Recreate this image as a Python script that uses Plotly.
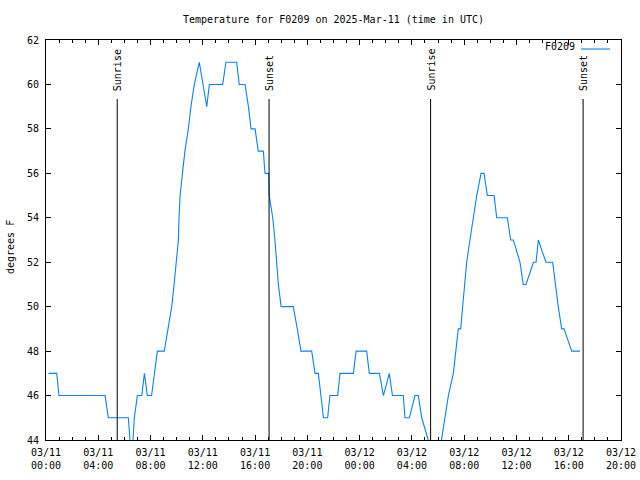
import pandas as pd
import plotly.graph_objects as go

# Hours since 2025-03-11 00:00 UTC and temperature (deg F)
hours = [0.2, 0.82, 0.99, 4.52, 4.77, 6.3, 6.55, 6.76, 6.99, 7.33, 7.53, 7.75, 8.08, 8.29, 8.52,
         9.05, 9.36, 9.62, 9.8, 9.95, 10.13, 10.18, 10.26, 10.44, 10.63, 10.89, 11.09, 11.35, 11.73,
         12.3, 12.5, 13.52, 13.77, 14.59, 14.79, 15.23, 15.49, 15.69, 16.0, 16.24, 16.63, 16.76,
         17.04, 17.08, 17.35, 17.52, 17.65, 17.78, 17.99, 18.92, 19.23, 19.51, 20.33, 20.59, 20.84,
         21.01, 21.23, 21.55, 21.73, 22.32, 22.5, 23.52, 23.73, 24.54, 24.74, 25.51, 25.82, 26.27,
         26.51, 27.34, 27.47, 27.8, 28.24, 28.49, 28.75, 29.25, 29.6, 30.0, 30.28, 30.53, 30.79,
         31.17, 31.38, 31.55, 31.73, 31.88, 32.01, 32.19, 32.44, 32.7, 32.96, 33.29, 33.52, 33.77,
         34.29, 34.49, 35.3, 35.56, 35.76, 36.27, 36.52, 36.73, 37.3, 37.5, 37.67, 38.26, 38.77,
         39.2, 39.46, 39.64, 40.23, 40.86]
temps = [47, 47, 46, 46, 45, 45, 43, 45, 46, 46, 47, 46, 46, 47, 48,
         48, 49, 50, 51, 52, 53, 54, 55, 56, 57, 58, 59, 60, 61,
         59, 60, 60, 61, 61, 60, 60, 59, 58, 58, 57, 57, 56,
         56, 55, 54, 53, 52, 51, 50, 50, 49, 48, 48, 47, 47,
         46, 45, 45, 46, 46, 47, 47, 48, 48, 47, 47, 46, 47,
         46, 46, 45, 45, 46, 46, 45, 44, 43, 43, 44, 45, 46,
         47, 48, 49, 49, 50, 51, 52, 53, 54, 55, 56, 56, 55,
         55, 54, 54, 53, 53, 52, 51, 51, 52, 52, 53, 52, 52,
         50, 49, 49, 48, 48]

sun_events = ["Sunrise", "Sunset", "Sunrise", "Sunset"]
sun_hours = [5.45, 17.07, 29.43, 41.1]

station = "F0209"
base = pd.Timestamp("2025-03-11 00:00")
times = [base + pd.Timedelta(hours=h) for h in hours]
sun_times = [base + pd.Timedelta(hours=h) for h in sun_hours]

FONT = "DejaVu Sans Mono"
COLOR = "#0a80ff"
PW, PH = 575, 400  # plot area size in px

fig = go.Figure()
fig.add_trace(go.Scatter(x=times, y=temps, mode="lines",
                         line=dict(color=COLOR, width=1.1), showlegend=False, name=station))

shapes = []
annotations = []
for name, t in zip(sun_events, sun_times):
    shapes.append(dict(type="line", xref="x", yref="paper", x0=t, x1=t, y0=0, y1=0.8525,
                       line=dict(color="black", width=1)))
    annotations.append(dict(text=name, x=t, xref="x", y=0.87, yref="paper", textangle=-90,
                            xanchor="center", yanchor="bottom", showarrow=False, borderpad=0,
                            font=dict(family=FONT, size=10, color="black")))

# legend entry (text left of line sample, gnuplot style)
annotations.append(dict(text=station, x=(576 - 46) / PW, xref="paper", y=(440 - 47) / PH,
                        yref="paper", xanchor="right", yanchor="middle", showarrow=False,
                        borderpad=0, font=dict(family=FONT, size=10, color="black")))
shapes.append(dict(type="line", xref="paper", yref="paper",
                   x0=(581 - 46) / PW, x1=(610 - 46) / PW,
                   y0=(440 - 49) / PH, y1=(440 - 49) / PH, line=dict(color=COLOR, width=1.1)))

# y-axis title
annotations.append(dict(text="degrees F", x=-36 / PW, xref="paper", xanchor="center",
                        y=0.4825, yref="paper", yanchor="middle", textangle=-90,
                        showarrow=False, font=dict(family=FONT, size=10, color="black")))

fig.update_layout(
    width=640, height=480,
    margin=dict(l=46, r=19, t=40, b=40, autoexpand=False),
    paper_bgcolor="white", plot_bgcolor="white",
    font=dict(family=FONT, size=10, color="black"),
    title=dict(text="Temperature for F0209 on 2025-Mar-11 (time in UTC)", x=0.5, xref="paper",
               xanchor="center", y=1 - 19 / 480, yanchor="middle",
               font=dict(family=FONT, size=10, color="black")),
    shapes=shapes, annotations=annotations,
    xaxis=dict(type="date", range=[base, base + pd.Timedelta(hours=44)],
               tick0=base, dtick=4 * 3600 * 1000, tickformat="%m/%d<br>%H:%M",
               ticks="inside", ticklen=5, tickcolor="black", showline=True, linecolor="black",
               linewidth=1, mirror="allticks", showgrid=False, zeroline=False, automargin=False,
               ticklabelstandoff=3,
               minor=dict(dtick=3600 * 1000, ticks="inside", ticklen=3, tickcolor="black",
                          showgrid=False)),
    yaxis=dict(range=[44, 62], dtick=2, tick0=44, ticks="inside", ticklen=5, tickcolor="black",
               showline=True, linecolor="black", linewidth=1, mirror="allticks",
               showgrid=False, zeroline=False, ticklabelstandoff=4, automargin=False),
)

fig.write_html("out.html")
